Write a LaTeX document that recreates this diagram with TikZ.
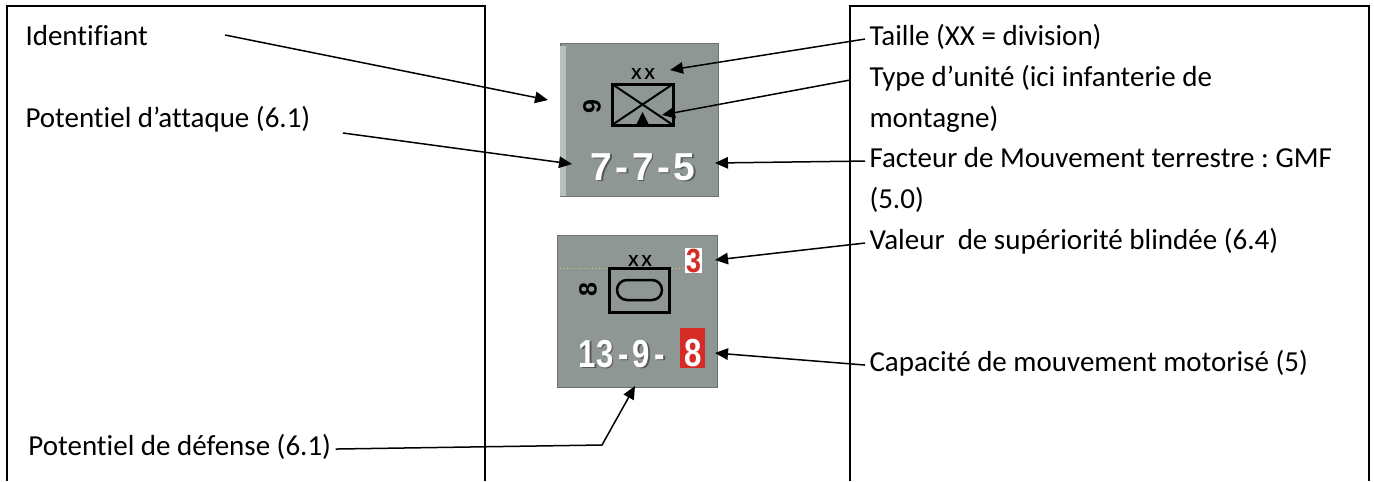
\documentclass[tikz,border=0pt]{standalone}
\usepackage{fontspec}
\setmainfont{Carlito}[Ligatures=NoCommon]
\newfontfamily\pionfont{Liberation Sans}
\usetikzlibrary{arrows.meta,calc}
\definecolor{pion}{RGB}{142,151,148}
\definecolor{pionclair}{RGB}{184,191,188}
\definecolor{rouge}{RGB}{214,44,40}
\tikzset{
	lbl/.style={anchor=base west, inner xsep=1.6pt, inner ysep=0pt, font=\fontsize{11.6pt}{14pt}\selectfont},
	fleche/.style={line width=0.6pt, -{Triangle[length=5.2pt,width=4.6pt]}},
	cadre/.style={line width=0.5pt},
	pionfond/.style={fill=pion, draw=pion!75!black, line width=0.4pt},
	chiffre/.style={font=\pionfont\bfseries\fontsize{15.6pt}{16pt}\selectfont, inner sep=0pt, anchor=base west},
	echelon/.style={font=\pionfont\bfseries\fontsize{6.4pt}{6.4pt}\selectfont, inner sep=0pt},
	ident/.style={font=\pionfont\bfseries\fontsize{10pt}{10pt}\selectfont, inner sep=0pt, rotate=90},
}
\def\valeurs(#1,#2)#3#4{\node[chiffre, text=black!65] (#3s) at (#1+1.5,#2+1.5) {#4};
	\node[chiffre, text=white] (#3) at (#1,#2) {#4};}
\frenchspacing

\begin{document}
\begin{tikzpicture}[x=0.4pt,y=-0.4pt]
			%%%%% START %%%%%
			\useasboundingbox (0,0) rectangle (1374,481);
			
			\draw[cadre] (7,481) -- (7,6) -- (485,6) -- (485,481);
			\draw[cadre] (850,481) -- (850,6) -- (1369,6) -- (1369,481);
			
			% pion infanterie de montagne
			\draw[pionfond] (560,43) rectangle (718,196);
			\fill[pionclair] (560,46) rectangle (566,196);
			\node[echelon] (xxA) at (643,74) {X\kern1pt X};
			\draw[line width=1.2pt] (612,84) rectangle (673,125);
			\draw[line width=0.8pt] (612,84) -- (673,125) (612,125) -- (673,84);
			\fill (636,125) -- (642.5,112) -- (649,125) -- cycle;
			\node[ident] (idA) at (592,107) {9};
			\valeurs(590,180){forceA}{7\kern1.4pt-\kern1.4pt7\kern1.4pt-\kern1.4pt5}
			
			% pion blinde
			\draw[pionfond] (557,235) rectangle (717,387);
			\draw[densely dotted, yellow!45!pion] (560,268) -- (684,268);
			\node[echelon] (xxB) at (640,261) {X\kern1pt X};
			\draw[line width=1.2pt] (609,268) rectangle (669,312);
			\draw[line width=1pt, rounded corners=4pt] (617,280) rectangle (662,300);
			\node[ident] (idB) at (588,290) {8};
			\fill[white] (685,248) rectangle (702,273);
			\node[font=\pionfont\bfseries\fontsize{13.4pt}{14pt}\selectfont, text=rouge, inner sep=0pt] (blinde) at (693.5,260.5) {\scalebox{0.8}[1]{3}};
			\valeurs(578,367){forceB}{\scalebox{0.8}[1]{1\kern0.3pt3\kern2.2pt-\kern2.2pt9\kern2.2pt-}}
			\fill[rouge] (680,328) rectangle (705,368);
			\node[chiffre, text=white] (moto) at (684,366) {\scalebox{0.8}[1]{8}};
			
			% textes
			\node[lbl] (identifiant) at (21,45) {Identifiant};
			\node[lbl] (attaque) at (21,127) {Potentiel d’attaque (6.1)};
			\node[lbl] (defense) at (24,455) {Potentiel de défense (6.1)};
			
			\node[lbl] (taille) at (865,45) {Taille (XX = division)};
			\node[lbl] (type) at (865,86) {Type d’unité (ici infanterie de};
			\node[lbl] (type2) at (865,127) {montagne)};
			\node[lbl] (facteur) at (865,167) {Facteur de Mouvement terrestre : GMF};
			\node[lbl] (facteur2) at (865,208) {(5.0)};
			\node[lbl] (valeur) at (865,249) {Valeur\ \ de supériorité blindée (6.4)};
			\node[lbl] (capacite) at (865,371) {Capacité de mouvement motorisé (5)};
			
			% fleches
			\coordinate (queueId) at (225,35);
			\coordinate (queueAtt) at (343,133);
			\coordinate (coude) at (602,445);
			\coordinate (pointeId) at (548,100);
			\coordinate (pointeAtt) at (572,164);
			\coordinate (pointeTaille) at (670,70);
			\coordinate (pointeType) at (662,115);
			\coordinate (pointeFacteur) at (715,163);
			\coordinate (pointeBlinde) at (715,260);
			\coordinate (pointeMoto) at (715,353);
			\coordinate (pointeDef) at (635,386);
			
			\draw[fleche] (queueId) -- (pointeId);
			\draw[fleche] (queueAtt) -- (pointeAtt);
			\draw[fleche] (taille.mid west) -- (pointeTaille);
			\draw[fleche] ([xshift=-6pt]type.mid west) -- (pointeType);
			\draw[fleche] (facteur.mid west) -- (pointeFacteur);
			\draw[fleche] (valeur.mid west) -- (pointeBlinde);
			\draw[fleche] (capacite.mid west) -- (pointeMoto);
			\draw[fleche] (defense.mid east) -- (coude) -- (pointeDef);
			
			%%%%% END %%%%%
\end{tikzpicture}
\end{document}
